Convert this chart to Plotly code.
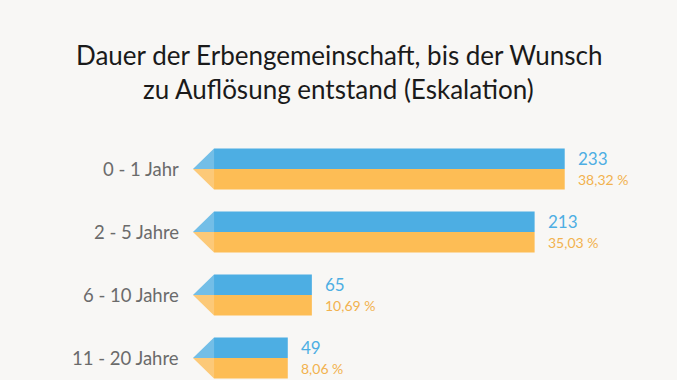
import plotly.graph_objects as go

title_lines = ["Dauer der Erbengemeinschaft, bis der Wunsch", "zu Auflösung entstand (Eskalation)"]
categories = ["0 - 1 Jahr", "2 - 5 Jahre", "6 - 10 Jahre", "11 - 20 Jahre"]
counts = [233, 213, 65, 49]
percent_labels = ["38,32 %", "35,03 %", "10,69 %", "8,06 %"]

BLUE = "#4DAEE3"
ORANGE = "#FDBD55"
BLUE_LIGHT = "rgba(77,174,227,0.78)"
ORANGE_LIGHT = "rgba(253,189,85,0.78)"
BG = "#F8F7F5"

idx = list(range(len(categories)))
H = 0.325      # half-bar height in category units
TIP = -14      # arrow tip position in data units

fig = go.Figure()

fig.add_trace(go.Bar(orientation="h", y=idx, x=counts, base=0, width=H, offset=-H,
                     marker=dict(color=BLUE, line=dict(width=0)), hoverinfo="skip"))
fig.add_trace(go.Bar(orientation="h", y=idx, x=counts, base=0, width=H, offset=0,
                     marker=dict(color=ORANGE, line=dict(width=0)), hoverinfo="skip"))

# arrow heads
bx, by, ox, oy = [], [], [], []
for i in idx:
    bx += [0, TIP, 0, 0, None]
    by += [i - H, i, i, i - H, None]
    ox += [0, TIP, 0, 0, None]
    oy += [i, i, i + H, i, None]
fig.add_trace(go.Scatter(x=bx, y=by, mode="lines", fill="toself", fillcolor=BLUE_LIGHT,
                         line=dict(width=0), hoverinfo="skip"))
fig.add_trace(go.Scatter(x=ox, y=oy, mode="lines", fill="toself", fillcolor=ORANGE_LIGHT,
                         line=dict(width=0), hoverinfo="skip"))

ann = []
for i, (c, v, p) in enumerate(zip(categories, counts, percent_labels)):
    ann.append(dict(x=TIP, y=i, text=c, showarrow=False, xanchor="right", xshift=-12,
                    font=dict(family="Lato", size=18.5, color="#6B6B6B")))
    ann.append(dict(x=v, y=i, text=str(v), showarrow=False, xanchor="left", xshift=11, yshift=11,
                    font=dict(family="Lato", size=17, color=BLUE)))
    ann.append(dict(x=v, y=i, text=p, showarrow=False, xanchor="left", xshift=11, yshift=-10,
                    font=dict(family="Lato", size=14, color="#F2B24E")))

ann.append(dict(xref="paper", yref="paper", x=0.5, y=1 - 55 / 380, text=title_lines[0],
                showarrow=False, xanchor="center", yanchor="middle",
                font=dict(family="Lato", size=26, color="#1A1A1A")))
ann.append(dict(xref="paper", yref="paper", x=0.5, y=1 - 89 / 380, text=title_lines[1],
                showarrow=False, xanchor="center", yanchor="middle",
                font=dict(family="Lato", size=26, color="#1A1A1A")))

fig.update_layout(
    width=677, height=380,
    margin=dict(l=0, r=0, t=0, b=0),
    paper_bgcolor=BG, plot_bgcolor=BG,
    showlegend=False, barmode="overlay",
    xaxis=dict(range=[-142.2, 307.6], visible=False, fixedrange=True),
    yaxis=dict(range=[(380 - 169) / 63, -169 / 63], visible=False, fixedrange=True),
    annotations=ann,
)

fig.write_html("out.html", config={"displayModeBar": False},
               post_script="document.body.style.margin='0';document.body.style.background='#F8F7F5';document.body.style.overflow='hidden';")
